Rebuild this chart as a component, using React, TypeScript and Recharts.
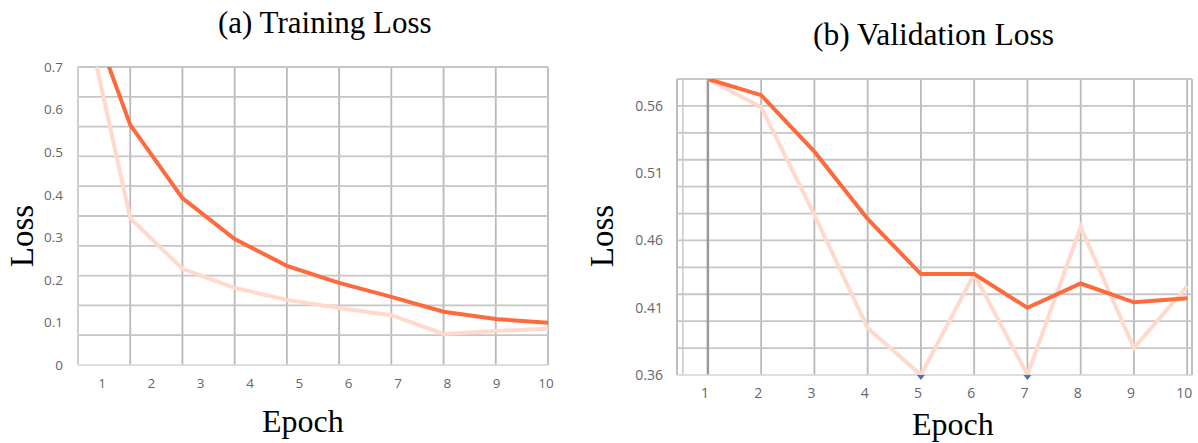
import React from "react";
import {
  LineChart,
  Line,
  XAxis,
  YAxis,
  CartesianGrid,
  ReferenceLine,
  ReferenceDot,
} from "recharts";

// ---------- data ----------
const epochs = [1, 2, 3, 4, 5, 6, 7, 8, 9, 10];

const trainLoss = [0.9, 0.564, 0.392, 0.296, 0.233, 0.193, 0.16, 0.125, 0.108, 0.099];
const trainLossRaw = [0.9, 0.345, 0.226, 0.181, 0.153, 0.134, 0.117, 0.073, 0.08, 0.085];

const valLoss = [0.58, 0.568, 0.526, 0.476, 0.435, 0.435, 0.41, 0.428, 0.414, 0.417];
const valLossRaw = [0.58, 0.559, 0.479, 0.395, 0.36, 0.435, 0.36, 0.47, 0.38, 0.426];

const trainYTicks = [0, 0.1, 0.2, 0.3, 0.4, 0.5, 0.6, 0.7];
const trainGridTicks = [0.07, 0.14, 0.21, 0.28, 0.35, 0.42, 0.49, 0.56, 0.63, 0.7];
const valYTicks = [0.36, 0.41, 0.46, 0.51, 0.56];
const valGridTicks = [0.38, 0.4, 0.42, 0.44, 0.46, 0.48, 0.5, 0.52, 0.54, 0.56, 0.58];

const trainData = epochs.map((e, i) => ({ epoch: e, smooth: trainLoss[i], raw: trainLossRaw[i] }));
const valData = epochs.map((e, i) => ({ epoch: e, smooth: valLoss[i], raw: valLossRaw[i] }));

// ---------- style ----------
const RED = "#ff6a3d";
const PALE = "#ffd9cc";
const GRID = "#b9b9b9";
const HGRID = "#c6c6c6";
const AXIS = "#d4d4d4";
const TICK_FONT = "'Open Sans', 'Noto Sans', sans-serif";
const SERIF = "'Liberation Serif', 'Times New Roman', serif";

const EmptyTick = () => <g />;

const BlueMark = (props: any) => {
  const { cx, cy } = props;
  if (cx == null || cy == null) return null;
  return <path d={`M${cx - 4},${cy} L${cx + 4},${cy} L${cx},${cy + 5} Z`} fill="#4472c4" />;
};

export default function App() {
  const valMin = valYTicks[0];
  return (
    <div style={{ position: "absolute", left: 0, top: 0, width: 1198, height: 443, background: "#fff" }}>
      {/* (a) Training Loss */}
      <div style={{ position: "absolute", left: 0, top: 0 }}>
        <LineChart width={600} height={443} data={trainData} margin={{ top: 67, right: 52, bottom: 48, left: 0 }}>
          <XAxis
            xAxisId="d"
            dataKey="epoch"
            type="number"
            domain={[1, 10]}
            ticks={epochs}
            height={0}
            tick={EmptyTick}
            tickLine={false}
            axisLine={false}
          />
          <XAxis
            xAxisId="lbl"
            dataKey="epoch"
            type="number"
            domain={[0.513, 10.04]}
            ticks={epochs}
            height={30}
            tickLine={false}
            tickMargin={7}
            axisLine={{ stroke: AXIS, strokeWidth: 1.5 }}
            tick={{ fill: "#666", fontSize: 13.5, fontFamily: TICK_FONT }}
          />
          <YAxis
            yAxisId="v"
            type="number"
            domain={[0, 0.7]}
            ticks={trainYTicks}
            allowDataOverflow
            width={78}
            tickLine={false}
            tickMargin={9}
            axisLine={{ stroke: AXIS, strokeWidth: 1.5 }}
            tick={{ fill: "#666", fontSize: 13.5, fontFamily: TICK_FONT }}
          />
          <CartesianGrid xAxisId="d" yAxisId="v" stroke={GRID} strokeWidth={1.8} horizontal={false} />
          {trainGridTicks.map((g) => (
            <ReferenceLine key={g} xAxisId="d" yAxisId="v" y={g} stroke={HGRID} strokeWidth={1.8} />
          ))}
          <Line
            xAxisId="d"
            yAxisId="v"
            dataKey="raw"
            stroke={PALE}
            strokeWidth={4}
            dot={false}
            isAnimationActive={false}
          />
          <Line
            xAxisId="d"
            yAxisId="v"
            dataKey="smooth"
            stroke={RED}
            strokeWidth={4}
            dot={false}
            isAnimationActive={false}
          />
        </LineChart>
      </div>

      {/* (b) Validation Loss */}
      <div style={{ position: "absolute", left: 600, top: 0 }}>
        <LineChart width={598} height={443} data={valData} margin={{ top: 79, right: 6, bottom: 38, left: 0 }}>
          <XAxis
            xAxisId="d"
            dataKey="epoch"
            type="number"
            domain={[0.42, 10.09]}
            ticks={epochs}
            height={30}
            tickLine={false}
            tickMargin={7}
            axisLine={{ stroke: AXIS, strokeWidth: 1.5 }}
            tick={{ fill: "#666", fontSize: 14, fontFamily: TICK_FONT, dx: -3 }}
          />
          <YAxis
            yAxisId="v"
            type="number"
            domain={[0.36, 0.58]}
            ticks={valYTicks}
            allowDataOverflow
            width={77}
            tickLine={false}
            tickMargin={8}
            axisLine={{ stroke: "#bdbdbd", strokeWidth: 1.5 }}
            tick={{ fill: "#666", fontSize: 14, fontFamily: TICK_FONT }}
          />
          <CartesianGrid xAxisId="d" yAxisId="v" stroke={GRID} strokeWidth={1.8} horizontal={false} />
          {valGridTicks.map((g) => (
            <ReferenceLine key={g} xAxisId="d" yAxisId="v" y={g} stroke={HGRID} strokeWidth={1.8} />
          ))}
          <ReferenceLine xAxisId="d" yAxisId="v" x={0.53} stroke="#c8c8c8" strokeWidth={1.5} />
          <ReferenceLine xAxisId="d" yAxisId="v" x={epochs[0]} stroke="#9a9a9a" strokeWidth={2.5} />
          <Line
            xAxisId="d"
            yAxisId="v"
            dataKey="raw"
            stroke={PALE}
            strokeWidth={4}
            dot={false}
            isAnimationActive={false}
          />
          <Line
            xAxisId="d"
            yAxisId="v"
            dataKey="smooth"
            stroke={RED}
            strokeWidth={4}
            dot={false}
            isAnimationActive={false}
          />
          {valData
            .filter((d) => d.raw <= valMin)
            .map((d) => (
              <ReferenceDot
                key={d.epoch}
                xAxisId="d"
                yAxisId="v"
                x={d.epoch}
                y={d.raw}
                ifOverflow="visible"
                shape={BlueMark}
              />
            ))}
        </LineChart>
      </div>

      {/* titles and axis labels */}
      <svg
        width={1198}
        height={443}
        style={{ position: "absolute", left: 0, top: 0, pointerEvents: "none" }}
      >
        <text x={218} y={33} fontFamily={SERIF} fontSize={31} fill="#000">
          (a) Training Loss
        </text>
        <text x={813} y={45} fontFamily={SERIF} fontSize={31.5} fill="#000">
          (b) Validation Loss
        </text>
        <text
          x={33}
          y={236}
          transform="rotate(-90 33 236)"
          textAnchor="middle"
          fontFamily={SERIF}
          fontSize={33}
          fill="#000"
        >
          Loss
        </text>
        <text
          x={613}
          y={236}
          transform="rotate(-90 613 236)"
          textAnchor="middle"
          fontFamily={SERIF}
          fontSize={33}
          fill="#000"
        >
          Loss
        </text>
        <text x={262} y={432} fontFamily={SERIF} fontSize={32} fill="#000">
          Epoch
        </text>
        <text x={912} y={435} fontFamily={SERIF} fontSize={32} fill="#000">
          Epoch
        </text>
      </svg>
    </div>
  );
}
